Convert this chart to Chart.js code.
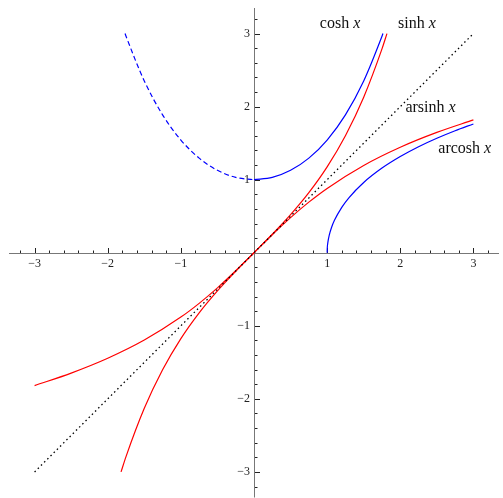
<!DOCTYPE html>
<html>
<head>
<meta charset="utf-8">
<title>Hyperbolic functions and their inverses</title>
<script src="https://cdn.jsdelivr.net/npm/chart.js@4/dist/chart.umd.min.js"></script>
<style>
  html, body { margin: 0; padding: 0; background: #fff; }
  #wrap { width: 503px; height: 498px; }
</style>
</head>
<body>
<div id="wrap"><canvas id="c" width="503" height="498"></canvas></div>
<script>
// cosh x, solid branch (x >= 0)
const coshPosX = [0, 0.25, 0.5, 0.75, 1, 1.25, 1.5, 1.75, 1.763];
const coshPosY = [1, 1.031, 1.128, 1.295, 1.543, 1.888, 2.352, 2.964, 3.0];
// cosh x, dashed branch (x <= 0)
const coshNegX = [-1.763, -1.75, -1.5, -1.25, -1, -0.75, -0.5, -0.25, 0];
const coshNegY = [3.0, 2.964, 2.352, 1.888, 1.543, 1.295, 1.128, 1.031, 1];
// sinh x
const sinhX = [-1.818, -1.75, -1.5, -1.25, -1, -0.75, -0.5, -0.25, 0, 0.25, 0.5, 0.75, 1, 1.25, 1.5, 1.75, 1.818];
const sinhY = [-3, -2.790, -2.129, -1.602, -1.175, -0.822, -0.521, -0.253, 0, 0.253, 0.521, 0.822, 1.175, 1.602, 2.129, 2.790, 3];
// arsinh x
const arsinhX = [-3, -2.5, -2, -1.5, -1, -0.75, -0.5, -0.25, 0, 0.25, 0.5, 0.75, 1, 1.5, 2, 2.5, 3];
const arsinhY = [-1.818, -1.647, -1.444, -1.195, -0.881, -0.693, -0.481, -0.247, 0, 0.247, 0.481, 0.693, 0.881, 1.195, 1.444, 1.647, 1.818];
// arcosh x
const arcoshX = [1, 1.002, 1.01, 1.03, 1.06, 1.1, 1.2, 1.3, 1.5, 1.75, 2, 2.25, 2.5, 2.75, 3];
const arcoshY = [0, 0.063, 0.141, 0.244, 0.345, 0.444, 0.622, 0.756, 0.962, 1.159, 1.317, 1.451, 1.567, 1.670, 1.763];
// y = x reference line
const diagX = [-3, 3];
const diagY = [-3, 3];

// axis tick values
const majorTicks = [-3, -2, -1, 1, 2, 3];
const minorTicks = [-3.2, -2.8, -2.6, -2.4, -2.2, -1.8, -1.6, -1.4, -1.2, -0.8, -0.6, -0.4, -0.2,
                    0.2, 0.4, 0.6, 0.8, 1.2, 1.4, 1.6, 1.8, 2.2, 2.4, 2.6, 2.8, 3.2];

// curve captions and their anchor points (data units)
const captionNames = ['cosh', 'sinh', 'arsinh', 'arcosh'];
const captionX = [0.9, 1.97, 2.07, 2.52];
const captionY = [3.07, 3.07, 1.93, 1.37];

const zip = (xs, ys) => xs.map((x, i) => ({ x, y: ys[i] }));
const RED = '#ff0000', BLUE = '#0000ff';
const SERIF = '"Liberation Serif", "Times New Roman", serif';

const axesPlugin = {
  id: 'centerAxes',
  beforeDatasetsDraw(chart) {
    const { ctx, chartArea: a, scales: { x, y } } = chart;
    const ox = x.getPixelForValue(0), oy = y.getPixelForValue(0);
    ctx.save();
    ctx.strokeStyle = '#777';
    ctx.lineWidth = 1;
    ctx.beginPath();
    ctx.moveTo(a.left, Math.round(oy) + 0.5); ctx.lineTo(a.right, Math.round(oy) + 0.5);
    ctx.moveTo(Math.round(ox) + 0.5, a.top); ctx.lineTo(Math.round(ox) + 0.5, a.bottom);
    ctx.stroke();

    ctx.strokeStyle = '#222';
    ctx.beginPath();
    const tick = (v, len) => {
      const px = Math.round(x.getPixelForValue(v)) + 0.5;
      ctx.moveTo(px, Math.round(oy)); ctx.lineTo(px, Math.round(oy) - len);
      const py = Math.round(y.getPixelForValue(v)) + 0.5;
      ctx.moveTo(Math.round(ox) + 1, py); ctx.lineTo(Math.round(ox) + 1 + len, py);
    };
    majorTicks.forEach(v => tick(v, 5));
    minorTicks.forEach(v => tick(v, 2.5));
    ctx.stroke();

    ctx.fillStyle = '#222';
    ctx.font = '12px ' + SERIF;
    majorTicks.forEach(v => {
      const s = (v < 0 ? '\u2212' : '') + Math.abs(v);
      ctx.textAlign = 'center'; ctx.textBaseline = 'top';
      ctx.fillText(s, x.getPixelForValue(v), oy + 5);
      ctx.textAlign = 'right'; ctx.textBaseline = 'middle';
      ctx.fillText(s, ox - 4, y.getPixelForValue(v));
    });
    ctx.restore();
  },
  afterDraw(chart) {
    const { ctx, scales: { x, y } } = chart;
    ctx.save();
    ctx.fillStyle = '#111';
    ctx.textBaseline = 'alphabetic';
    ctx.textAlign = 'left';
    captionNames.forEach((name, i) => {
      const px = x.getPixelForValue(captionX[i]);
      const py = y.getPixelForValue(captionY[i]);
      ctx.font = '16px ' + SERIF;
      const head = name + ' ';
      ctx.fillText(head, px, py);
      const w = ctx.measureText(head).width;
      ctx.font = 'italic 16px ' + SERIF;
      ctx.fillText('x', px + w, py);
    });
    ctx.restore();
  }
};

new Chart(document.getElementById('c'), {
  type: 'scatter',
  data: {
    datasets: [
      { data: zip(diagX, diagY), borderColor: '#000', borderWidth: 1.3, borderDash: [1.5, 3] },
      { data: zip(arcoshX, arcoshY), borderColor: BLUE },
      { data: zip(arsinhX, arsinhY), borderColor: RED },
      { data: zip(coshNegX, coshNegY), borderColor: BLUE, borderDash: [5, 3] },
      { data: zip(coshPosX, coshPosY), borderColor: BLUE },
      { data: zip(sinhX, sinhY), borderColor: RED }
    ].map(d => Object.assign({
      showLine: true, pointRadius: 0, pointHoverRadius: 0, borderWidth: 1.2,
      cubicInterpolationMode: 'monotone', fill: false
    }, d))
  },
  options: {
    responsive: false,
    animation: false,
    events: [],
    layout: { padding: { left: 9, right: 4, top: 8, bottom: 0.5 } },
    plugins: { legend: { display: false }, tooltip: { enabled: false } },
    scales: {
      x: { type: 'linear', min: -3.35, max: 3.35, display: false },
      y: { type: 'linear', min: -3.35, max: 3.35, display: false }
    }
  },
  plugins: [axesPlugin]
});
</script>
</body>
</html>
